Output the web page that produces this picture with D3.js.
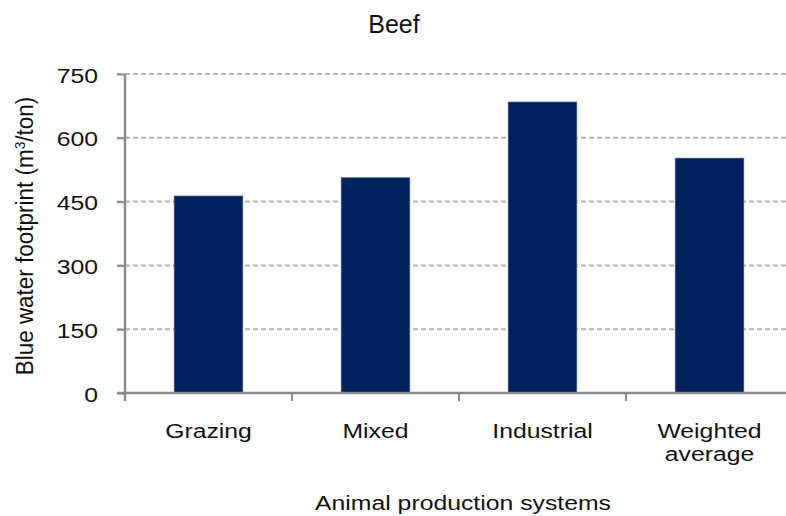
<!DOCTYPE html>
<html>
<head>
<meta charset="utf-8">
<script src="https://cdn.jsdelivr.net/npm/d3@7"></script>
<style>
  html, body { margin: 0; padding: 0; background: #fff; }
  svg { display: block; font-family: "Liberation Sans", Arial, sans-serif; }
</style>
</head>
<body>
<svg id="chart" width="786" height="516"></svg>
<script>
// Blue water footprint of beef per animal production system
const categories = ["Grazing", "Mixed", "Industrial", "Weighted average"];
const blueWater = [463, 506, 684, 552];
const yTicks = [0, 150, 300, 450, 600, 750];

const svg = d3.select("#chart");
const W = 786, H = 516;
const plot = { left: 125, right: 793, top: 74, bottom: 393 };
const stretch = 1.18;          // wide label lettering
const labelSize = "21px";

const x = d3.scaleBand()
  .domain(categories)
  .range([plot.left, plot.right])
  .paddingInner(0.59)
  .paddingOuter(0.295);

const y = d3.scaleLinear()
  .domain([0, 750])
  .range([plot.bottom, plot.top]);

const axisColor = "#8a8a8a";
const textColor = "#111";

// dashed horizontal gridlines
svg.append("g")
  .selectAll("line")
  .data(yTicks.filter(d => d > 0))
  .join("line")
  .attr("x1", plot.left - 8)
  .attr("x2", W)
  .attr("y1", d => y(d))
  .attr("y2", d => y(d))
  .attr("stroke", "#b4b4b4")
  .attr("stroke-width", 2)
  .attr("stroke-dasharray", "5,3");

// bars
svg.append("g")
  .selectAll("rect")
  .data(categories)
  .join("rect")
  .attr("x", d => x(d))
  .attr("width", x.bandwidth())
  .attr("y", (d, i) => y(blueWater[i]))
  .attr("height", (d, i) => y(0) - y(blueWater[i]))
  .attr("fill", "#00205e")
  .attr("stroke", "#3a4f80")
  .attr("stroke-width", 0.8);

// y axis
const yAxis = svg.append("g")
  .attr("transform", `translate(${plot.left},0)`)
  .call(d3.axisLeft(y).tickValues(yTicks).tickSize(8));
yAxis.select(".domain").attr("stroke", axisColor).attr("stroke-width", 2.5)
  .attr("d", `M0,${plot.top}V${plot.bottom + 8}`);
yAxis.selectAll(".tick line").attr("stroke", axisColor).attr("stroke-width", 2);
yAxis.selectAll(".tick text")
  .attr("x", 0)
  .attr("dy", null)
  .attr("y", 8)
  .attr("transform", `translate(-27,0) scale(${stretch},1)`)
  .attr("fill", textColor)
  .style("font-size", labelSize);

// x axis
const xAxis = svg.append("g")
  .attr("transform", `translate(0,${plot.bottom})`)
  .call(d3.axisBottom(x).tickSize(0).tickFormat(""));
xAxis.select(".domain").attr("stroke", axisColor).attr("stroke-width", 2.5)
  .attr("d", `M${plot.left - 8},0H${W}`);

// category boundary ticks
const boundaries = categories.map(c => x(c) - x.step() * x.paddingInner() / 2);
xAxis.append("g")
  .selectAll("line")
  .data(boundaries)
  .join("line")
  .attr("x1", d => d).attr("x2", d => d)
  .attr("y1", 0).attr("y2", 8)
  .attr("stroke", axisColor)
  .attr("stroke-width", 2);

// category labels (wrapped)
const labelLines = { "Weighted average": ["Weighted", "average"] };
const labels = svg.append("g")
  .selectAll("text")
  .data(categories)
  .join("text")
  .attr("transform", d => `translate(${x(d) + x.bandwidth() / 2},438) scale(${stretch},1)`)
  .attr("text-anchor", "middle")
  .attr("fill", textColor)
  .style("font-size", labelSize);
labels.each(function (d) {
  const lines = labelLines[d] || [d];
  d3.select(this).selectAll("tspan")
    .data(lines)
    .join("tspan")
    .attr("x", 0)
    .attr("dy", (l, i) => i === 0 ? 0 : 23)
    .text(l => l);
});

// title
svg.append("text")
  .attr("x", 394)
  .attr("y", 33)
  .attr("text-anchor", "middle")
  .attr("fill", textColor)
  .style("font-size", "25px")
  .text("Beef");

// x axis title
svg.append("text")
  .attr("transform", `translate(463,510) scale(${stretch},1)`)
  .attr("text-anchor", "middle")
  .attr("fill", textColor)
  .style("font-size", labelSize)
  .text("Animal production systems");

// y axis title
const yTitle = svg.append("text")
  .attr("transform", `translate(33,236) rotate(-90) scale(1.07,${stretch})`)
  .attr("text-anchor", "middle")
  .attr("fill", textColor)
  .style("font-size", labelSize);
yTitle.append("tspan").text("Blue water footprint (m");
yTitle.append("tspan").attr("dy", -7).style("font-size", "13px").text("3");
yTitle.append("tspan").attr("dy", 7).text("/ton)");
</script>
</body>
</html>
